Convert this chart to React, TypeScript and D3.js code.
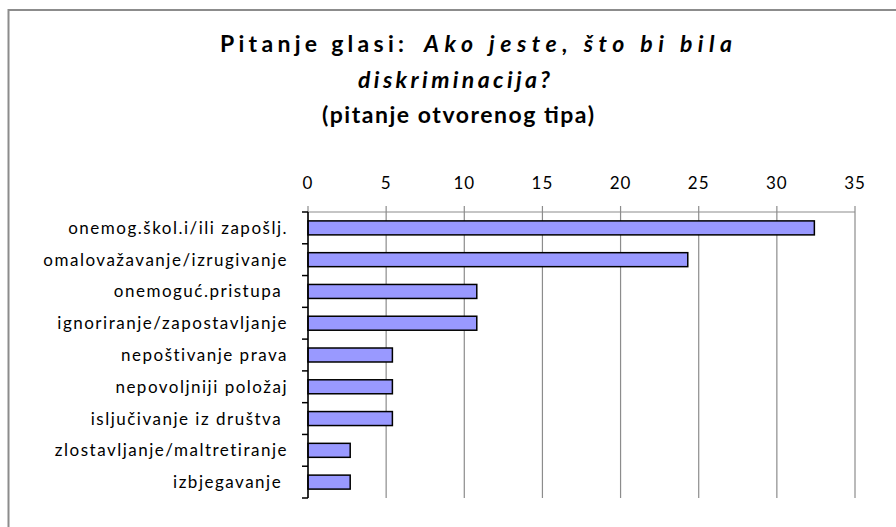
import React, { useEffect, useRef } from "react";
import * as d3 from "d3";

const categories = [
  "onemog.škol.i/ili zapošlj.",
  "omalovažavanje/izrugivanje",
  "onemoguć.pristupa\u00a0",
  "ignoriranje/zapostavljanje",
  "nepoštivanje prava",
  "nepovoljniji položaj",
  "isljučivanje iz društva\u00a0",
  "zlostavljanje/maltretiranje",
  "izbjegavanje\u00a0",
];
const values = [32.4, 24.3, 10.8, 10.8, 5.4, 5.4, 5.4, 2.7, 2.7];
const xTicks = [0, 5, 10, 15, 20, 25, 30, 35];

const W = 896;
const H = 527;
const FONT = "Lato, 'Open Sans', sans-serif";

const App = () => {
  const svgRef = useRef<SVGSVGElement>(null);

  useEffect(() => {
    const svg = d3.select(svgRef.current);
    svg.selectAll("*").remove();

    const margin = { top: 212, left: 308, right: W - 855, bottom: H - 498 };

    // outer chart frame
    svg
      .append("rect")
      .attr("x", 8.5)
      .attr("y", 10)
      .attr("width", W + 10)
      .attr("height", H + 10)
      .attr("fill", "white")
      .attr("stroke", "#8c8c8c")
      .attr("stroke-width", 2);

    // title, stretched to the widths of the original lines
    const titleText = (x: number, y: number, len: number, italic: boolean, s: string) =>
      svg
        .append("text")
        .attr("x", x)
        .attr("y", y)
        .attr("textLength", len)
        .attr("lengthAdjust", "spacing")
        .style("font-family", FONT)
        .style("font-size", "23px")
        .style("font-weight", "bold")
        .style("font-style", italic ? "italic" : "normal")
        .text(s);
    titleText(220, 52, 184, false, "Pitanje glasi:");
    titleText(424, 52, 308, true, "Ako jeste, što bi bila");
    titleText(358, 88, 192, true, "diskriminacija?");
    titleText(322, 123, 272, false, "(pitanje otvorenog tipa)");

    const x = d3
      .scaleLinear()
      .domain([0, 35])
      .range([margin.left, W - margin.right]);
    const y = d3
      .scaleBand()
      .domain(categories)
      .range([margin.top, H - margin.bottom])
      .paddingInner(0.56)
      .paddingOuter(0.28);
    const step = y.step();

    // gridlines + top ticks
    svg
      .append("g")
      .selectAll("line")
      .data(xTicks)
      .join("line")
      .attr("x1", (d) => x(d))
      .attr("x2", (d) => x(d))
      .attr("y1", margin.top - 6)
      .attr("y2", H - margin.bottom)
      .attr("stroke", "#8c8c8c")
      .attr("stroke-width", 1.2);

    // top axis line
    svg
      .append("line")
      .attr("x1", margin.left)
      .attr("x2", W - margin.right)
      .attr("y1", margin.top)
      .attr("y2", margin.top)
      .attr("stroke", "#8c8c8c")
      .attr("stroke-width", 1.2);

    svg
      .append("g")
      .selectAll("text")
      .data(xTicks)
      .join("text")
      .attr("x", (d) => x(d))
      .attr("y", 189)
      .attr("text-anchor", "middle")
      .style("font-family", FONT)
      .style("font-size", "17px")
      .style("letter-spacing", "1px")
      .text((d) => d);

    // bars
    svg
      .append("g")
      .selectAll("rect")
      .data(values)
      .join("rect")
      .attr("x", x(0))
      .attr("y", (_, i) => y(categories[i])!)
      .attr("width", (d) => x(d) - x(0))
      .attr("height", y.bandwidth())
      .attr("fill", "#9999ff")
      .attr("stroke", "#000")
      .attr("stroke-width", 1.5);

    // left axis
    svg
      .append("line")
      .attr("x1", margin.left)
      .attr("x2", margin.left)
      .attr("y1", margin.top)
      .attr("y2", H - margin.bottom)
      .attr("stroke", "#000")
      .attr("stroke-width", 1.5);
    svg
      .append("g")
      .selectAll("line")
      .data(d3.range(categories.length + 1))
      .join("line")
      .attr("x1", margin.left - 6)
      .attr("x2", margin.left)
      .attr("y1", (i) => margin.top + i * step)
      .attr("y2", (i) => margin.top + i * step)
      .attr("stroke", "#000")
      .attr("stroke-width", 1.5);

    svg
      .append("g")
      .selectAll("text")
      .data(categories)
      .join("text")
      .attr("x", margin.left - 20)
      .attr("y", (d) => y(d)! + y.bandwidth() / 2)
      .attr("dy", "0.35em")
      .attr("text-anchor", "end")
      .style("font-family", FONT)
      .style("font-size", "17px")
      .style("letter-spacing", "1.5px")
      .text((d) => d);
  }, []);

  return (
    <svg
      ref={svgRef}
      width={W}
      height={H}
      style={{ position: "absolute", left: 0, top: 0, display: "block" }}
    />
  );
};

export default App;
